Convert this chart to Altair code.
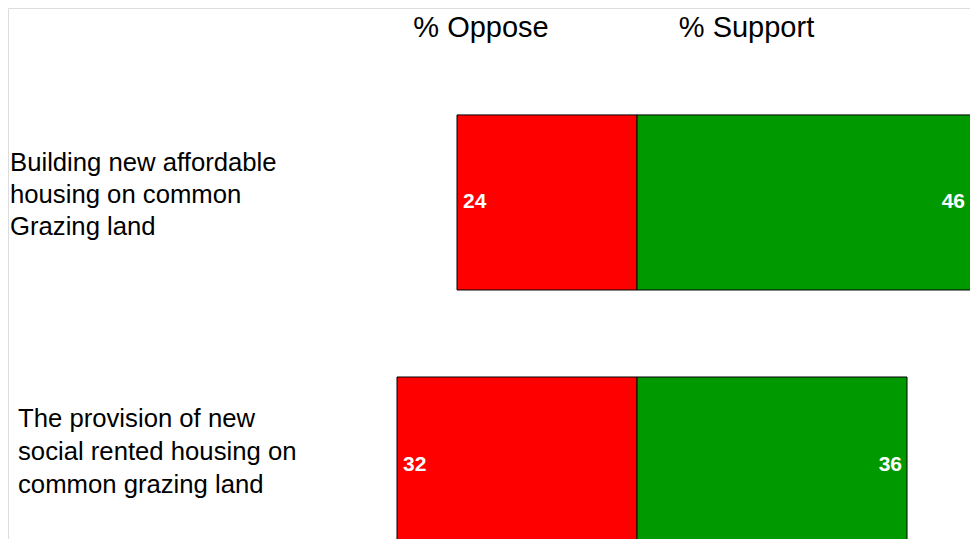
import altair as alt
import pandas as pd

categories = [
    "Building new affordable\nhousing on common\nGrazing land",
    "The provision of new\nsocial rented housing on\ncommon grazing land",
]
oppose = [24, 32]
support = [46, 36]
headers = ["% Oppose", "% Support"]

rows = []
for c, o, s in zip(categories, oppose, support):
    rows.append({"cat": c, "side": "Oppose", "start": -o, "end": 0, "value": o})
    rows.append({"cat": c, "side": "Support", "start": 0, "end": s, "value": s})
df = pd.DataFrame(rows)

W, H = 962, 531
XMIN, XMAX = -629 / 7.5, (W - 629) / 7.5
xscale = alt.Scale(domain=[XMIN, XMAX], nice=False, zero=False)
yscale = alt.Scale(domain=categories, range=[0, 651], paddingInner=0.332, paddingOuter=0.408)

base = alt.Chart(df)

bars = base.mark_bar(stroke="black", strokeWidth=1, clip=True).encode(
    x=alt.X("start:Q", scale=xscale, axis=None),
    x2="end:Q",
    y=alt.Y("cat:N", scale=yscale, axis=None),
    color=alt.Color("side:N", scale=alt.Scale(domain=["Oppose", "Support"], range=["#FF0000", "#009900"]), legend=None),
)

lab_opp = base.transform_filter(alt.datum.side == "Oppose").mark_text(
    align="left", baseline="middle", dx=6, color="white", fontWeight="bold",
    font="Liberation Sans", fontSize=21
).encode(
    x=alt.X("start:Q", scale=xscale, axis=None),
    y=alt.Y("cat:N", scale=yscale, axis=None),
    text="value:Q",
)
lab_sup = base.transform_filter(alt.datum.side == "Support").transform_calculate(
    lx=f"min(datum.end, {XMAX})"
).mark_text(
    align="right", baseline="middle", dx=-5, color="white", fontWeight="bold",
    font="Liberation Sans", fontSize=21
).encode(
    x=alt.X("lx:Q", scale=xscale, axis=None),
    y=alt.Y("cat:N", scale=yscale, axis=None),
    text="value:Q",
)

cat_df = pd.DataFrame({"cat": categories})
cat1 = alt.Chart(cat_df).transform_filter(alt.datum.cat == categories[0]).mark_text(
    align="left", baseline="middle", lineBreak="\n", lineHeight=32, dy=-39,
    font="Liberation Sans", fontSize=25.7, color="black"
).encode(x=alt.value(2), y=alt.Y("cat:N", scale=yscale, axis=None), text="cat:N")
cat2 = alt.Chart(cat_df).transform_filter(alt.datum.cat == categories[1]).mark_text(
    align="left", baseline="middle", lineBreak="\n", lineHeight=33, dy=-46,
    font="Liberation Sans", fontSize=25.7, color="black"
).encode(x=alt.value(10), y=alt.Y("cat:N", scale=yscale, axis=None), text="cat:N")

hdr_df = pd.DataFrame({"h": headers, "pos": [473, 738.5]})
hdr = alt.Chart(hdr_df).mark_text(
    align="center", baseline="middle", font="Liberation Sans", fontSize=29, color="black"
).encode(x=alt.X("pos:Q", scale=alt.Scale(domain=[0, W], nice=False), axis=None), y=alt.value(20), text="h:N")

chart = alt.layer(bars, lab_opp, lab_sup, cat1, cat2, hdr).resolve_scale(x="independent").properties(
    width=W, height=H, padding=0, autosize=alt.AutoSizeParams(type="none")
).configure_view(strokeWidth=0, stroke="transparent").configure(background="white")

chart.save("out.html", embed_options={"renderer": "svg", "actions": False})
